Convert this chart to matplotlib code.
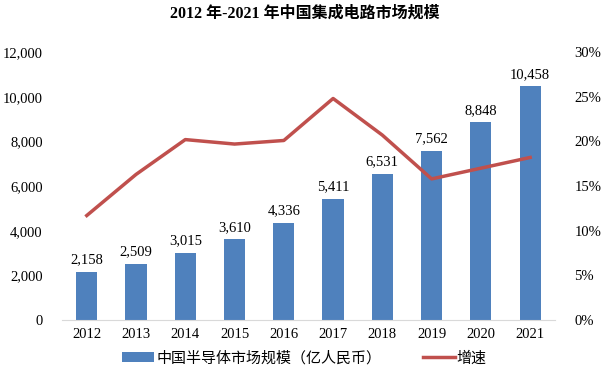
import numpy as np
import matplotlib.pyplot as plt
from matplotlib.ticker import FuncFormatter

plt.rcParams['font.family'] = ['Liberation Serif', 'Noto Sans CJK SC']

# data
years = ['2012', '2013', '2014', '2015', '2016', '2017', '2018', '2019', '2020', '2021']
market = [2158, 2509, 3015, 3610, 4336, 5411, 6531, 7562, 8848, 10458]
growth = [11.7, 16.3, 20.2, 19.7, 20.1, 24.8, 20.7, 15.8, 17.0, 18.2]

bar_label = '中国半导体市场规模（亿人民币）'
line_label = '增速'

fig = plt.figure(figsize=(6.09, 3.77), dpi=100)
ax = fig.add_axes([0.102, 0.151, 0.809, 0.711])
ax2 = ax.twinx()

x = np.arange(len(years))
bars = ax.bar(x, market, width=0.43, color='#4F81BD', label=bar_label, zorder=2)
for xi, v in zip(x, market):
    ax.text(xi, v + 250, f'{v:,}', ha='center', va='bottom', fontsize=10.5)

line, = ax2.plot(x, growth, color='#C0504D', linewidth=2.5, label=line_label)

ax.set_xlim(-0.5, len(years) - 0.5)
ax.set_ylim(0, 12000)
ax.set_yticks(np.arange(0, 12001, 2000))
ax.yaxis.set_major_formatter(FuncFormatter(lambda v, p: f'{int(v):,}'))
ax2.set_ylim(0, 30)
ax2.set_yticks(np.arange(0, 31, 5))
ax2.yaxis.set_major_formatter(FuncFormatter(lambda v, p: f'{int(v)}%'))

ax.set_xticks(x)
ax.set_xticklabels(years)

for a in (ax, ax2):
    for s in ('top', 'right', 'left'):
        a.spines[s].set_visible(False)
    a.spines['bottom'].set_color('#D9D9D9')
    a.tick_params(length=0, labelsize=10.5)
ax2.spines['bottom'].set_visible(False)
ax.tick_params(axis='y', pad=14)
ax2.tick_params(axis='y', pad=14)
ax.tick_params(axis='x', pad=6)

fig.suptitle('2012 年-2021 年中国集成电路市场规模', y=0.985, fontsize=11.5, fontweight='bold')

fig.legend([bars, line], [bar_label, line_label], loc='center', bbox_to_anchor=(0.5, 0.05),
           ncol=2, frameon=False, fontsize=10.8, handlelength=2.1, columnspacing=2.8,
           handletextpad=0.15)

fig.savefig('out.png', dpi=100)
